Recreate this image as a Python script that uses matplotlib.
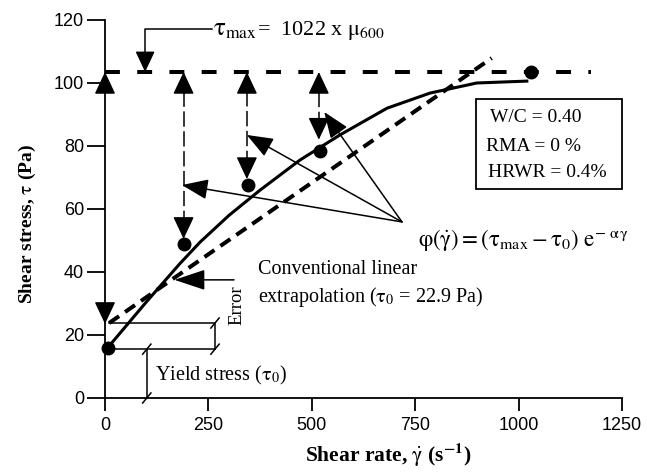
import matplotlib
matplotlib.use("Agg")
import matplotlib.pyplot as plt
from matplotlib.patches import Rectangle

plt.rcParams['mathtext.fontset'] = 'stix'
plt.rcParams['font.family'] = ['Liberation Serif', 'DejaVu Serif']

# ---- data ----
pts_x = [8, 190, 345, 520, 1030]
pts_y = [16.0, 49.0, 67.5, 78.5, 103.5]

fit_x = [10, 100, 180, 230, 300, 375, 471, 568, 682, 786, 899, 1020]
fit_y = [16.5, 30.5, 42.5, 49.5, 58.0, 66.0, 75.5, 83.5, 92.0, 96.8, 100.0, 100.6]

lin_x = [10, 935]
lin_y = [23.8, 107.9]

tau_max = 103.5
tau_max_x = [0, 1175]

arrow_x = [0, 190, 343, 517]
arrow_bottom = [23.5, 50.5, 69.5, 82.0]

conv_tips_x = [186, 343, 530]
conv_tips_y = [67.6, 83.5, 90.8]
conv_origin = (718, 55.9)

xticks = [0, 250, 500, 750, 1000, 1250]
yticks = [0, 20, 40, 60, 80, 100, 120]

fig = plt.figure(figsize=(6.47, 4.76), dpi=100)
ax = fig.add_axes([0.1623, 0.1639, 0.7990, 0.7941])
ax.set_xlim(0, 1250)
ax.set_ylim(0, 120)
for s in ['top', 'right']:
    ax.spines[s].set_visible(False)
for s in ['left', 'bottom']:
    ax.spines[s].set_linewidth(1.3)
ax.set_xticks(xticks)
ax.set_yticks(yticks)
ax.tick_params(axis='y', direction='out', length=13, width=1.3, labelsize=13, pad=2)
ax.tick_params(axis='x', direction='out', length=9, width=1.3, labelsize=13, pad=5)
for lab in ax.get_xticklabels() + ax.get_yticklabels():
    lab.set_fontfamily('Liberation Sans')

# tau_max dashed horizontal
ax.plot(tau_max_x, [tau_max, tau_max], color='k', lw=2.9, dashes=(3.7, 4.3), dash_capstyle='butt')
# linear extrapolation
ax.plot(lin_x, lin_y, color='k', lw=2.9, dashes=(3.0, 1.8), dash_capstyle='butt')
# fitted curve
ax.plot(fit_x, fit_y, color='k', lw=2.2)
# points
ax.plot(pts_x, pts_y, 'o', color='k', ms=9, clip_on=False)

def head(x, y, dx, dy, ms=14, hl=1.0, hw=0.47):
    ax.annotate('', xy=(x, y), xytext=(x - dx, y - dy),
                arrowprops=dict(arrowstyle=f'-|>,head_length={hl},head_width={hw}',
                                mutation_scale=ms, color='k', lw=1.0,
                                shrinkA=0, shrinkB=0), annotation_clip=False)

# vertical arrows
for i, (x, yb) in enumerate(zip(arrow_x, arrow_bottom)):
    if i > 0:
        ax.plot([x, x], [yb + 4, tau_max - 4], color='k', lw=1.1, dashes=(10, 3))
    head(x, tau_max, 0, 1.5)
    head(x, yb, 0, -1.5)

# tau_max leader arrow
ax.plot([258, 97, 97], [117.1, 117.1, 108], color='k', lw=1.1)
head(97, tau_max, 0, -1.5, ms=13)
ax.text(260, 116.8, r'$\mathrm{τ}_{\mathrm{max}}$', fontsize=18, va='center', ha='left')
ax.text(368, 116.8, r'=  1022 x $\mathrm{μ}_{600}$', fontsize=16, va='center', ha='left')

# converging arrows
for tx, ty in zip(conv_tips_x, conv_tips_y):
    ax.annotate('', xy=(tx, ty), xytext=conv_origin,
                arrowprops=dict(arrowstyle='-|>,head_length=0.9,head_width=0.35',
                                mutation_scale=18, color='k', lw=1.1,
                                shrinkA=0, shrinkB=0))

ax.text(758, 50.3,
        r'$\mathrm{φ}(\dot{\mathrm{γ}}) = (\mathrm{τ}_{\mathrm{max}} - \mathrm{τ}_0)\ \mathrm{e}^{-\ \mathrm{α}\,\mathrm{γ}}$',
        fontsize=16.5, va='center', ha='left')

# conventional linear extrapolation arrow
ax.annotate('', xy=(168, 37.5), xytext=(312, 37.5),
            arrowprops=dict(arrowstyle='-|>,head_length=1.2,head_width=0.4',
                            mutation_scale=16, color='k', lw=1.1, shrinkA=0, shrinkB=0))
ax.text(370, 40.8, 'Conventional linear', fontsize=14.5, va='center', ha='left')
ax.text(370, 32.0, r'extrapolation ($\mathrm{τ}_0$ = 22.9 Pa)', fontsize=14.5, va='center', ha='left')

# error bracket
err_top, err_bot, err_x = 23.8, 15.5, 266
ax.plot([10, err_x], [err_top, err_top], color='k', lw=1.1)
ax.plot([10, err_x], [err_bot, err_bot], color='k', lw=1.1)
ax.plot([err_x, err_x], [err_bot, err_top], color='k', lw=1.1)
for yy in (err_bot, err_top):
    ax.plot([err_x - 10, err_x + 10], [yy - 1.6, yy + 1.6], color='k', lw=1.1)
ax.text(320, 29.5, 'Error', rotation=90, fontsize=13.5, va='center', ha='center')

# yield stress bracket
ys_x = 101
ax.plot([ys_x, ys_x], [0, err_bot], color='k', lw=1.1, clip_on=False)
for yy in (0, err_bot):
    ax.plot([ys_x - 10, ys_x + 10], [yy - 1.6, yy + 1.6], color='k', lw=1.1, clip_on=False)
ax.text(121, 7.3, r'Yield stress ($\mathrm{τ}_0$)', fontsize=14.5, va='center', ha='left')

# info box
ax.add_patch(Rectangle((897, 66.3), 353, 28.6, fill=False, lw=1.3, edgecolor='k', clip_on=False))
ax.text(932, 88.9, 'W/C = 0.40', fontsize=14, va='center', ha='left')
ax.text(922, 79.7, 'RMA = 0 %', fontsize=14, va='center', ha='left')
ax.text(925, 71.7, 'HRWR = 0.4%', fontsize=14, va='center', ha='left')

# axis labels
fig.text(0.043, 0.53, r'Shear stress, $\mathrm{τ}$ (Pa)', rotation=90, fontsize=14,
         fontweight='bold', va='center', ha='center')
fig.text(0.6, 0.045, r'Shear rate, $\dot{\mathrm{γ}}$ (s$^{\mathbf{-1}}$)', fontsize=15.5,
         fontweight='bold', va='center', ha='center')

fig.savefig('out.png', dpi=100)
